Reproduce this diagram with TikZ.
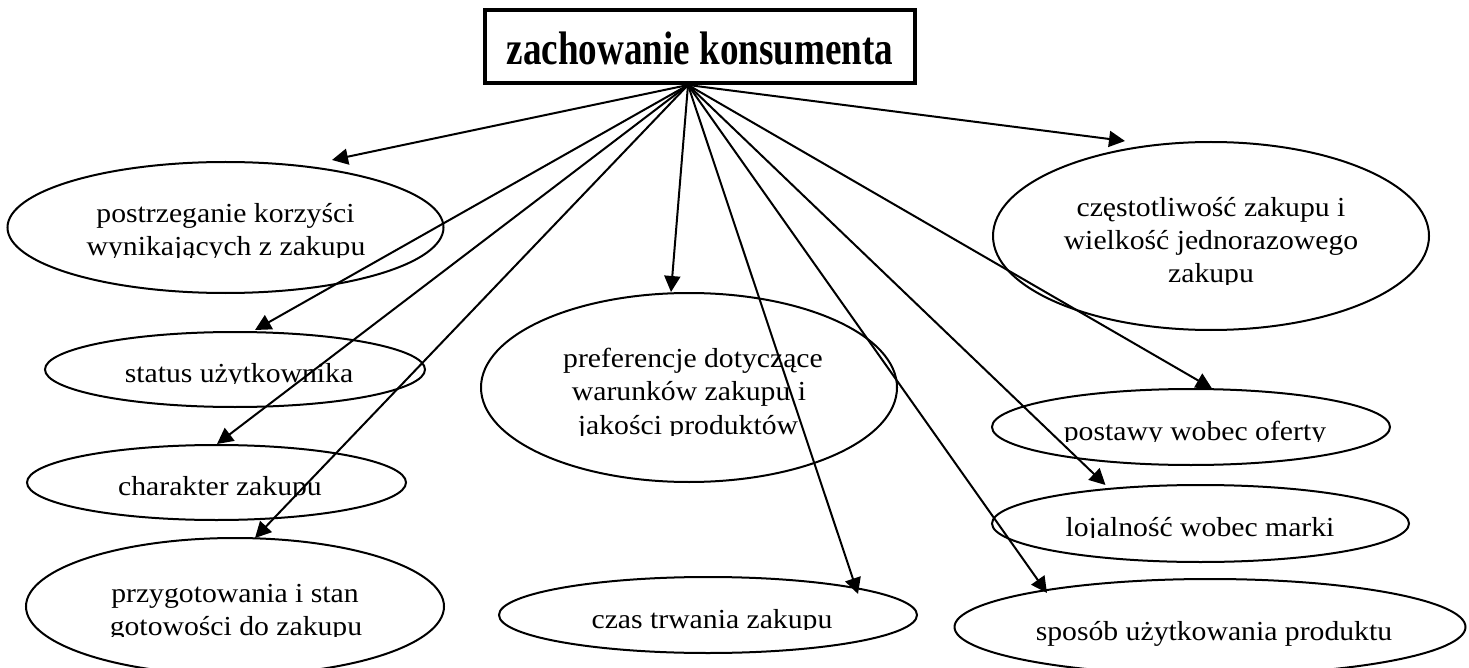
\documentclass[tikz,border=0pt]{standalone}
\usepackage{fontspec}
\setmainfont{Liberation Serif}
\newfontfamily\bodyfont{Liberation Serif}[FakeStretch=1.08]
\newfontfamily\headfont{Liberation Serif}[FakeStretch=0.79]
\usetikzlibrary{arrows.meta,shapes.geometric,calc}

\begin{document}
\begin{tikzpicture}[x=1pt,y=-1pt,
  oval/.style={draw, ellipse, line width=2pt, inner sep=0pt, outer sep=0pt},
  lbl/.style={anchor=base, inner sep=0pt, font=\bodyfont\fontsize{27.5}{33}\selectfont},
  conn/.style={line width=2pt, -{Triangle[length=16pt,width=16pt]}},
  headbox/.style={draw, line width=4pt, minimum width=430pt, minimum height=73pt,
    inner sep=0pt, text height=37pt, text depth=0pt,
    font=\headfont\bfseries\fontsize{47}{56}\selectfont}
]
\useasboundingbox (0,0) rectangle (1469,668);

% central box
\node[headbox] (title) at (700,46.5) {zachowanie konsumenta};
\coordinate (fan) at ($(title.south)+(-12,0)$);

% ovals
\node[oval, minimum width=436pt, minimum height=131pt] (e1)  at (225.5,227.5) {};
\node[oval, minimum width=436pt, minimum height=188pt] (e2)  at (1211,236) {};
\node[oval, minimum width=380pt, minimum height=75pt]  (e3)  at (235,369.5) {};
\node[oval, minimum width=379pt, minimum height=75pt]  (e4)  at (216.5,482.5) {};
\node[oval, minimum width=418pt, minimum height=137pt] (e5)  at (235,606.5) {};
\node[oval, minimum width=416pt, minimum height=189pt] (e6)  at (689,387.5) {};
\node[oval, minimum width=418pt, minimum height=76pt]  (e7)  at (708,615) {};
\node[oval, minimum width=398pt, minimum height=76pt]  (e8)  at (1191,427) {};
\node[oval, minimum width=417pt, minimum height=77pt]  (e9)  at (1200.5,523.5) {};
\node[oval, minimum width=511pt, minimum height=96pt]  (e10) at (1210,627) {};

% labels, each cut off at the lower edge of its text frame
\begin{scope}
  \clip (0,150) rectangle (460,257.5);
  \node[lbl] (e1a) at (225.5,223) {postrzeganie korzyści};
  \node[lbl] (e1b) at (226,256) {wynikających z zakupu};
\end{scope}
\begin{scope}
  \clip (980,140) rectangle (1440,284.5);
  \node[lbl] (e2a) at (1211,217) {częstotliwość zakupu i};
  \node[lbl] (e2b) at (1211,250) {wielkość jednorazowego};
  \node[lbl] (e2c) at (1211,283) {zakupu};
\end{scope}
\begin{scope}
  \clip (40,330) rectangle (430,383.5);
  \node[lbl] (e3a) at (239,382) {status użytkownika};
\end{scope}
\begin{scope}
  \clip (20,440) rectangle (410,496.5);
  \node[lbl] (e4a) at (220,495) {charakter zakupu};
\end{scope}
\begin{scope}
  \clip (20,540) rectangle (450,636.5);
  \node[lbl] (e5a) at (235,602) {przygotowania i stan};
  \node[lbl] (e5b) at (236,635) {gotowości do zakupu};
\end{scope}
\begin{scope}
  \clip (480,290) rectangle (900,435.5);
  \node[lbl] (e6a) at (693,367) {preferencje dotyczące};
  \node[lbl] (e6b) at (689,400) {warunków zakupu i};
  \node[lbl] (e6c) at (688,434) {jakości produktów};
\end{scope}
\begin{scope}
  \clip (500,580) rectangle (920,629.5);
  \node[lbl] (e7a) at (712,628) {czas trwania zakupu};
\end{scope}
\begin{scope}
  \clip (990,390) rectangle (1390,441.5);
  \node[lbl] (e8a) at (1195,440) {postawy wobec oferty};
\end{scope}
\begin{scope}
  \clip (990,485) rectangle (1410,537.5);
  \node[lbl] (e9a) at (1200,536) {lojalność wobec marki};
\end{scope}
\node[lbl] (e10a) at (1214,640) {sposób użytkowania produktu};

% connectors
\draw[conn] (fan) -- ($(e1)+(106.5,-67.5)$);
\draw[conn] (fan) -- ($(e2)+(-86,-95)$);
\draw[conn] (fan) -- ($(e3)+(20,-39.5)$);
\draw[conn] (fan) -- ($(e4)+(0.5,-38.5)$);
\draw[conn] (fan) -- ($(e5)+(20,-68.5)$);
\draw[conn] (fan) -- ($(e6)+(-18,-95.5)$);
\draw[conn] (fan) -- ($(e7)+(150,-21)$);
\draw[conn] (fan) -- ($(e8)+(21,-38.5)$);
\draw[conn] (fan) -- ($(e9)+(-95,-38.5)$);
\draw[conn] (fan) -- ($(e10)+(-163,-34)$);
\end{tikzpicture}
\end{document}
